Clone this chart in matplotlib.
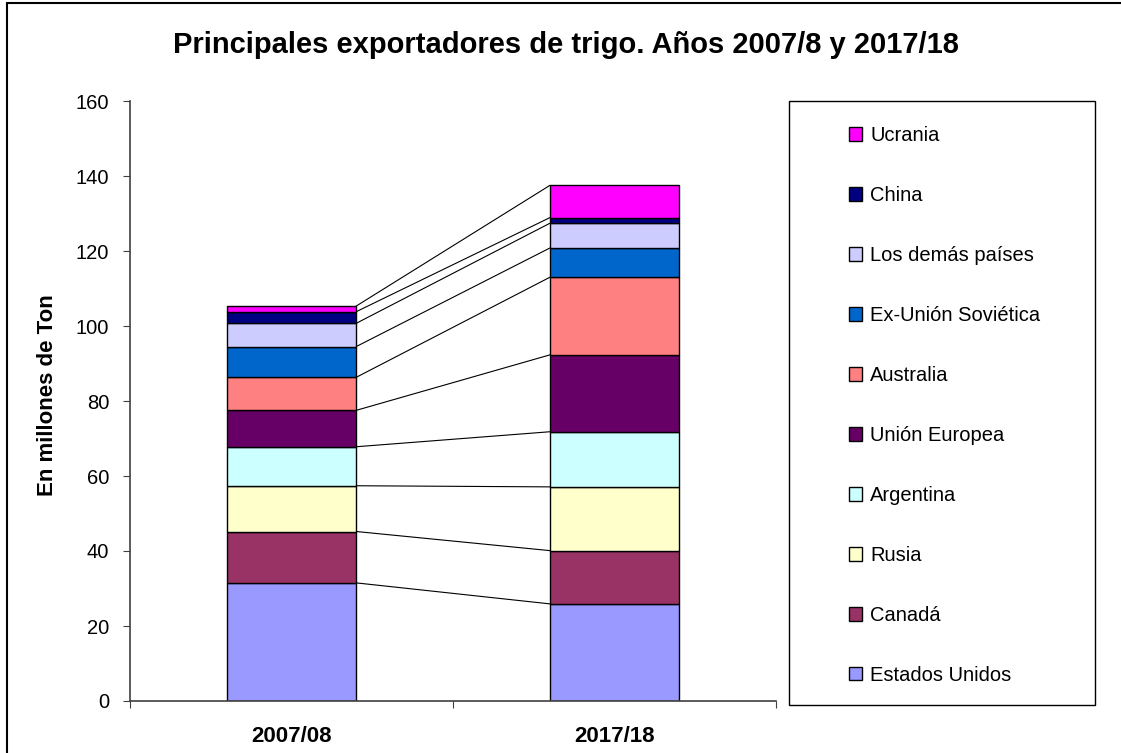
import matplotlib
matplotlib.use("Agg")
import matplotlib.pyplot as plt
from matplotlib.patches import Rectangle, Patch
import numpy as np

plt.rcParams['font.family'] = ['Liberation Sans', 'DejaVu Sans']

years = ["2007/08", "2017/18"]
series = ["Estados Unidos", "Canadá", "Rusia", "Argentina", "Unión Europea",
          "Australia", "Ex-Unión Soviética", "Los demás países", "China", "Ucrania"]
estados_unidos = [31.5, 25.9]
canada = [13.7, 14.2]
rusia = [12.2, 17.0]
argentina = [10.4, 14.7]
union_europea = [9.7, 20.5]
australia = [8.8, 20.7]
ex_urss = [8.2, 7.8]
los_demas = [6.2, 6.6]
china = [3.1, 1.5]
ucrania = [1.5, 8.6]
colors = ["#9999FF", "#993366", "#FFFFCC", "#CCFFFF", "#660066",
          "#FF8080", "#0066CC", "#CCCCFF", "#000080", "#FF00FF"]
yticks = [0, 20, 40, 60, 80, 100, 120, 140, 160]

values = [estados_unidos, canada, rusia, argentina, union_europea,
          australia, ex_urss, los_demas, china, ucrania]

W, H = 1121, 753
fig = plt.figure(figsize=(W / 100, H / 100), dpi=100)
ax = fig.add_axes([130 / W, (H - 701) / H, (776 - 130) / W, (701 - 101) / H])

x = np.arange(len(years))
bw = 0.4
bottom = np.zeros(len(years))
for name, vals, c in zip(series, values, colors):
    v = np.array(vals, dtype=float)
    ax.bar(x, v, bw, bottom=bottom, color=c, edgecolor="black", linewidth=1.0, zorder=2)
    top = bottom + v
    ax.plot([x[0] + bw / 2, x[1] - bw / 2], [top[0], top[1]], color="black", lw=0.8, zorder=1)
    bottom = top

ax.set_xlim(-0.5, 1.5)
ax.set_ylim(0, 160)
ax.set_yticks(yticks)
ax.set_yticklabels([str(t) for t in yticks], fontsize=14.5)
ax.set_xticks([-0.5, 0.5, 1.5])
ax.set_xticklabels([])
ax.set_xticks(x, minor=True)
ax.set_xticklabels(years, minor=True, fontsize=16, fontweight="bold")
ax.tick_params(axis="x", which="minor", length=0, pad=18)
ax.tick_params(axis="x", which="major", direction="out", length=5, color="#404040")
ax.tick_params(axis="y", direction="out", length=5, color="#404040", pad=10)
for s in ["top", "right"]:
    ax.spines[s].set_visible(False)
for s in ["left", "bottom"]:
    ax.spines[s].set_color("#404040")
    ax.spines[s].set_linewidth(1.2)

ax.set_ylabel("En millones de Ton", fontsize=16, fontweight="bold")
ax.yaxis.set_label_coords(-(130 - 58) / 646, 0.51)

fig.text(566 / W, 1 - 45 / H, "Principales exportadores de trigo. Años 2007/8 y 2017/18",
         ha="center", va="center", fontsize=21, fontweight="bold")

# legend box
fig.patches.append(Rectangle((789 / W, (H - 705) / H), (1095 - 789) / W, (705 - 101) / H,
                             transform=fig.transFigure, fill=False, edgecolor="black",
                             linewidth=1.0))
# figure border
fig.patches.append(Rectangle((7 / W, -0.2), 2, (H - 3) / H + 0.2,
                             transform=fig.transFigure, fill=False, edgecolor="black",
                             linewidth=1.5))

handles = [Patch(facecolor=c, edgecolor="black", linewidth=1.0) for c in colors][::-1]
labels = series[::-1]
fig.legend(handles, labels, loc="upper left", bbox_to_anchor=(849 / W, 1 - 126 / H),
           frameon=False, fontsize=14.5, borderpad=0, borderaxespad=0,
           handlelength=0.65, handleheight=0.65, handletextpad=0.4, labelspacing=2.035)

fig.savefig("out.png", dpi=100)
